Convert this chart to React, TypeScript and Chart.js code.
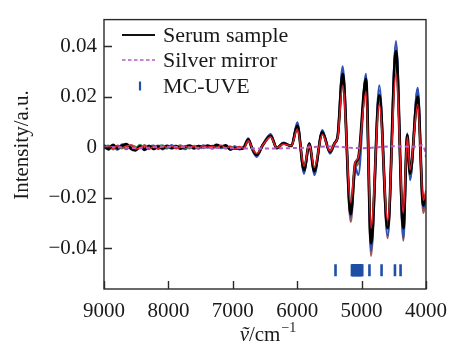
import React, { useEffect, useRef } from "react";
import { Chart, registerables } from "chart.js";

Chart.register(...registerables);

// Wavenumber grid (cm^-1), descending
const WN = [
  9000, 8930, 8860, 8790, 8720, 8650, 8580, 8510, 8440, 8370, 8300, 8230, 8160, 8090, 8020, 7950,
  7880, 7810, 7740, 7670, 7600, 7530, 7460, 7390, 7320, 7250, 7180, 7110, 7040, 6970, 6900, 6830,
  6759, 6700, 6630, 6530, 6412, 6318, 6215, 6090,
  5998, 5894, 5812, 5734, 5610, 5491, 5420, 5370,
  5294, 5169, 5100, 5050, 4932, 4854, 4725, 4595,
  4466, 4352, 4290, 4248, 4129, 4042, 4000,
];

const SAMPLE_BROWN = [
  -0.0006, 0.0003, 0.0006, -0.0007, 0.0002, -0.0008, 0.0007, 0.0001, -0.0005, 0.0008, -0.0004, 0.0001, 0.0006, -0.0009, 0.0003, -0.0006,
  0.0001, 0.0007, -0.0004, 0.0002, -0.0006, 0.0005, -0.0002, 0.0003, -0.0006, 0.0004, -0.0002, 0.0004, -0.0005, 0.0003, -0.0004, 0.0002,
  0.0032, -0.0006, -0.0034, 0.0011, 0.0048, -0.0004, 0.0016, 0.0005,
  0.009, -0.0098, 0.0014, -0.0102, 0.0062, -0.0022, 0.0016, 0.0046,
  0.0305, -0.0295, -0.0085, -0.006, 0.028, -0.043, 0.0225, -0.036,
  0.041, -0.037, 0.005, -0.0125, 0.023, -0.026, -0.021,
];

const SAMPLE_BLUE = [
  0.0009, -0.0004, 0.0002, -0.001, 0.0011, -0.0003, 0.0005, -0.0009, 0.0007, -0.0012, 0.0001, 0.0006, -0.0007, 0.0003, -0.0005, 0.0008,
  -0.0003, 0.0002, -0.0008, 0.0004, 0.0001, -0.0006, 0.0007, -0.0002, 0.0005, 0.0001, -0.0004, 0.0006, -0.001, 0.0002, -0.0008, 0.0001,
  0.0035, -0.0008, -0.0038, 0.0012, 0.0052, -0.0004, 0.0018, 0.0004,
  0.0098, -0.0105, 0.0016, -0.011, 0.0068, -0.0025, 0.0014, 0.0048,
  0.032, -0.0275, -0.008, -0.011, 0.029, -0.041, 0.0245, -0.035,
  0.042, -0.036, 0.0055, -0.013, 0.0235, -0.024, -0.02,
];

const SAMPLE_GREEN = [
  0.0002, 0.0007, -0.0009, 0.0003, -0.0005, 0.0009, 0.0002, -0.0004, 0.001, -0.0003, 0.0007, -0.0008, 0.0004, 0.0008, -0.0002, 0.0003,
  0.0007, -0.0004, 0.0, -0.0005, 0.0006, 0.0002, -0.0004, 0.0005, -0.0003, 0.0007, 0.0001, -0.0005, 0.0004, -0.0006, 0.0001, -0.0005,
  0.0028, -0.0004, -0.0028, 0.0011, 0.0042, -0.0003, 0.0014, 0.0005,
  0.0078, -0.0085, 0.0012, -0.009, 0.0056, -0.0018, 0.0015, 0.0042,
  0.026, -0.024, -0.007, -0.0048, 0.024, -0.034, 0.019, -0.03,
  0.034, -0.029, 0.0045, -0.011, 0.018, -0.022, -0.018,
];

const SAMPLE_BLACK = [
  0.0005, -0.0008, 0.0009, -0.0004, 0.0006, 0.0012, -0.0006, -0.0012, 0.0003, -0.0009, 0.0004, -0.0006, 0.0002, -0.0004, 0.0005, -0.0002,
  0.0003, -0.0005, 0.0002, 0.0006, -0.0003, 0.0004, 0.0001, 0.0006, 0.0002, 0.0009, 0.0003, 0.0007, -0.0008, -0.0004, -0.0006, -0.0002,
  0.003, -0.0005, -0.003, 0.001, 0.0045, -0.0003, 0.0015, 0.0005,
  0.0085, -0.009, 0.0013, -0.0095, 0.006, -0.0018, 0.0016, 0.0045,
  0.029, -0.0265, -0.0065, -0.0042, 0.027, -0.038, 0.0205, -0.032,
  0.038, -0.032, 0.0048, -0.0105, 0.020, -0.023, -0.019,
];

const SAMPLE_RED = [
  -0.0003, 0.0006, -0.0005, 0.0008, -0.0002, 0.0004, 0.0009, -0.0007, -0.0003, 0.0005, -0.0008, 0.0002, -0.0005, 0.0006, -0.0001, 0.0004,
  -0.0006, 0.0001, 0.0005, -0.0002, 0.0003, -0.0004, 0.0006, 0.0, 0.0004, -0.0002, 0.0008, -0.0003, 0.0002, -0.0007, 0.0003, -0.0004,
  0.0025, -0.0003, -0.0025, 0.001, 0.004, -0.0002, 0.0012, 0.0006,
  0.0072, -0.0075, 0.001, -0.008, 0.005, -0.0015, 0.0015, 0.004,
  0.0245, -0.022, -0.006, -0.004, 0.022, -0.032, 0.017, -0.029,
  0.029, -0.026, 0.004, -0.009, 0.017, -0.021, -0.017,
];

// Silver mirror reference spectrum
const MIRROR_WN = [9000, 8500, 8000, 7500, 7000, 6500, 6000, 5500, 5000, 4500, 4200, 4060, 4020, 4000];
const MIRROR_Y = [0.0002, -0.0003, 0.0002, -0.0002, -0.0004, -0.0005, -0.0003, 0.0003, -0.0004, 0.0004, 0.0002, 0.0008, -0.001, -0.004];

// MC-UVE selected variables (cm^-1)
const MCUVE_WN = [
  5405, 5150, 5140, 5130, 5120, 5110, 5100, 5090, 5080, 5070, 5060, 5050, 5040, 5030, 5020, 5010,
  5000, 4990, 4878, 4690, 4482, 4395,
];
const MCUVE_LEVEL = -0.0487;

const X_TICKS = [9000, 8000, 7000, 6000, 5000, 4000];
const Y_TICKS = [-0.04, -0.02, 0, 0.02, 0.04];
const LEGEND_LABELS = ["Serum sample", "Silver mirror", "MC-UVE"];

const FONT = "'Liberation Serif', 'Times New Roman', serif";
const BLUE_MARK = "#1f4fa6";
const MIRROR_COLOR = "#b35ec6";

const toPts = (xs: number[], ys: number[]) => xs.map((x, i) => ({ x, y: ys[i] }));

export default function App() {
  const ref = useRef<HTMLCanvasElement | null>(null);

  useEffect(() => {
    if (!ref.current) return;
    const sample = (data: number[], color: string, width: number, order: number) => ({
      data: toPts(WN, data),
      borderColor: color,
      borderWidth: width,
      pointRadius: 0,
      cubicInterpolationMode: "monotone" as const,
      order,
    });

    const overlay = {
      id: "overlay",
      afterDraw(chart: any) {
        const { ctx, chartArea, scales } = chart;
        const { left, right, top, bottom } = chartArea;
        const x = scales.x;
        const y = scales.y;
        ctx.save();
        // frame
        ctx.strokeStyle = "#2a2a2a";
        ctx.lineWidth = 1.4;
        ctx.strokeRect(left, top, right - left, bottom - top);
        // inward ticks
        ctx.beginPath();
        Y_TICKS.forEach((v) => {
          const py = Math.round(y.getPixelForValue(v)) + 0.5;
          ctx.moveTo(left, py);
          ctx.lineTo(left + 8, py);
        });
        X_TICKS.forEach((v) => {
          const px = Math.round(x.getPixelForValue(v)) + 0.5;
          ctx.moveTo(px, bottom);
          ctx.lineTo(px, bottom - 8);
        });
        ctx.stroke();

        // legend
        ctx.font = `22px ${FONT}`;
        ctx.fillStyle = "#1a1a1a";
        ctx.textBaseline = "middle";
        ctx.textAlign = "left";
        const rows = [35, 60, 86];
        ctx.strokeStyle = "#111";
        ctx.lineWidth = 1.8;
        ctx.beginPath();
        ctx.moveTo(122, rows[0]);
        ctx.lineTo(155, rows[0]);
        ctx.stroke();
        ctx.strokeStyle = MIRROR_COLOR;
        ctx.lineWidth = 1.6;
        ctx.setLineDash([3.5, 2.5]);
        ctx.beginPath();
        ctx.moveTo(122, rows[1]);
        ctx.lineTo(155, rows[1]);
        ctx.stroke();
        ctx.setLineDash([]);
        ctx.strokeStyle = BLUE_MARK;
        ctx.lineWidth = 2.2;
        ctx.beginPath();
        ctx.moveTo(140, rows[2] - 4.5);
        ctx.lineTo(140, rows[2] + 4.5);
        ctx.stroke();
        LEGEND_LABELS.forEach((t, i) => ctx.fillText(t, 163, rows[i] + 1));

        // y title
        ctx.save();
        ctx.font = `21px ${FONT}`;
        ctx.textAlign = "center";
        ctx.textBaseline = "alphabetic";
        ctx.translate(28, 145);
        ctx.rotate(-Math.PI / 2);
        ctx.fillText("Intensity/a.u.", 0, 0);
        ctx.restore();

        // x title: ṽ/cm^-1
        const base = 341;
        const fMain = `21px ${FONT}`;
        const fIt = `italic 21px ${FONT}`;
        const fSup = `14px ${FONT}`;
        ctx.textBaseline = "alphabetic";
        ctx.textAlign = "left";
        ctx.font = fIt;
        const w1 = ctx.measureText("ṽ").width;
        ctx.font = fMain;
        const w2 = ctx.measureText("/cm").width;
        ctx.font = fSup;
        const w3 = ctx.measureText("−1").width;
        const total = w1 + w2 + w3 + 1;
        let cx = (left + right) / 2 + 3 - total / 2;
        ctx.font = fIt;
        ctx.fillText("ṽ", cx, base);
        cx += w1;
        ctx.font = fMain;
        ctx.fillText("/cm", cx, base);
        cx += w2 + 1;
        ctx.font = fSup;
        ctx.fillText("−1", cx, base - 9);
        ctx.restore();
      },
    };

    const chart = new Chart(ref.current, {
      type: "line",
      data: {
        datasets: [
          sample(SAMPLE_BROWN, "#9a5a5a", 2.2, 6),
          sample(SAMPLE_BLUE, "#2a52b8", 2.2, 5),
          sample(SAMPLE_GREEN, "#2e9a50", 2, 4),
          sample(SAMPLE_BLACK, "#000000", 2.8, 3),
          sample(SAMPLE_RED, "#e41e26", 1.6, 2),
          {
            data: toPts(MIRROR_WN, MIRROR_Y),
            borderColor: MIRROR_COLOR,
            borderWidth: 2,
            borderDash: [4, 3],
            pointRadius: 0,
            cubicInterpolationMode: "monotone" as const,
            order: 1,
          },
          {
            type: "scatter" as const,
            data: MCUVE_WN.map((x) => ({ x, y: MCUVE_LEVEL })),
            showLine: false,
            pointStyle: "line",
            rotation: 90,
            pointRadius: 6,
            pointBorderWidth: 2.6,
            pointBorderColor: BLUE_MARK,
            pointBackgroundColor: BLUE_MARK,
            borderColor: BLUE_MARK,
            order: 0,
          } as any,
        ],
      },
      options: {
        animation: false,
        responsive: true,
        maintainAspectRatio: false,
        layout: { padding: { left: 0, right: 31, top: 16, bottom: 0 } },
        plugins: { legend: { display: false }, tooltip: { enabled: false } },
        scales: {
          x: {
            type: "linear",
            reverse: true,
            min: 4000,
            max: 9000,
            afterBuildTicks: (s: any) => {
              s.ticks = X_TICKS.map((v) => ({ value: v }));
            },
            afterFit: (s: any) => {
              s.height = 72;
            },
            grid: { display: false, drawTicks: false },
            border: { display: false },
            ticks: {
              padding: 10,
              maxRotation: 0,
              autoSkip: false,
              color: "#1a1a1a",
              font: { family: FONT, size: 21 },
              callback: (v: any) => String(v),
            },
          },
          y: {
            type: "linear",
            min: -0.0561,
            max: 0.0505,
            afterBuildTicks: (s: any) => {
              s.ticks = Y_TICKS.map((v) => ({ value: v }));
            },
            afterFit: (s: any) => {
              s.width = 104;
            },
            grid: { display: false, drawTicks: false },
            border: { display: false },
            ticks: {
              padding: 7,
              color: "#1a1a1a",
              font: { family: FONT, size: 21 },
              callback: (v: any) => (v === 0 ? "0" : Number(v).toFixed(2).replace("-", "−")),
            },
          },
        },
      },
      plugins: [overlay],
    });
    return () => chart.destroy();
  }, []);

  return (
    <div style={{ position: "absolute", left: 0, top: 0, width: 457, height: 361, background: "#fff" }}>
      <canvas ref={ref} />
    </div>
  );
}
